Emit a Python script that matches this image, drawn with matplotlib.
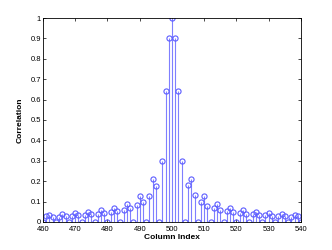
import numpy as np
import matplotlib
matplotlib.use('Agg')
import matplotlib.pyplot as plt

plt.rcParams['font.family'] = ['Liberation Sans', 'DejaVu Sans']

# column indices 460..540 and correlation values
columns = list(range(460, 541))
left_side = [0.0, 0.027, 0.035, 0.023, 0.0, 0.026, 0.037, 0.028, 0.0, 0.029,
             0.044, 0.032, 0.0, 0.034, 0.048, 0.037, 0.0, 0.039, 0.058, 0.044,
             0.0, 0.048, 0.071, 0.053, 0.0, 0.058, 0.089, 0.069, 0.0, 0.081,
             0.126, 0.1, 0.0, 0.127, 0.211, 0.177, 0.0, 0.297, 0.64, 0.9]
center = [1.0]
right_side = [0.9, 0.64, 0.3, 0.0, 0.18, 0.21, 0.13, 0.0, 0.1, 0.126,
              0.08, 0.0, 0.07, 0.09, 0.058, 0.0, 0.053, 0.07, 0.048, 0.0,
              0.044, 0.058, 0.039, 0.0, 0.037, 0.048, 0.034, 0.0, 0.032, 0.044,
              0.028, 0.0, 0.03, 0.037, 0.028, 0.0, 0.023, 0.035, 0.027, 0.0]
correlation = left_side + center + right_side

xticks = list(range(460, 541, 10))
yticks = [0, 0.1, 0.2, 0.3, 0.4, 0.5, 0.6, 0.7, 0.8, 0.9, 1]
yticklabels = ['0', '0.1', '0.2', '0.3', '0.4', '0.5', '0.6', '0.7', '0.8', '0.9', '1']

fig = plt.figure(figsize=(3.32, 2.5), dpi=100)
ax = fig.add_axes([0.1295, 0.112, 0.777, 0.816])

markerline, stemlines, baseline = ax.stem(columns, correlation)
plt.setp(stemlines, color='#7f7fff', linewidth=0.8)
plt.setp(markerline, marker='o', markersize=3.7, markerfacecolor='none',
         markeredgecolor='#5c5cff', markeredgewidth=0.8)
plt.setp(baseline, color='black', linewidth=0.6)

ax.set_xlim(460, 540)
ax.set_ylim(0, 1)
ax.set_xticks(xticks)
ax.set_yticks(yticks)
ax.set_yticklabels(yticklabels)
ax.tick_params(direction='in', length=2, width=0.5, labelsize=5.5,
               top=True, right=True)
ax.tick_params(axis='x', pad=3)
ax.tick_params(axis='y', pad=1.5)
for s in ax.spines.values():
    s.set_linewidth(0.6)

ax.set_xlabel('Column Index', fontsize=6, fontweight='bold', labelpad=0.5)
ax.set_ylabel('Correlation', fontsize=6, fontweight='bold', labelpad=5)

fig.savefig('out.png', dpi=100)
